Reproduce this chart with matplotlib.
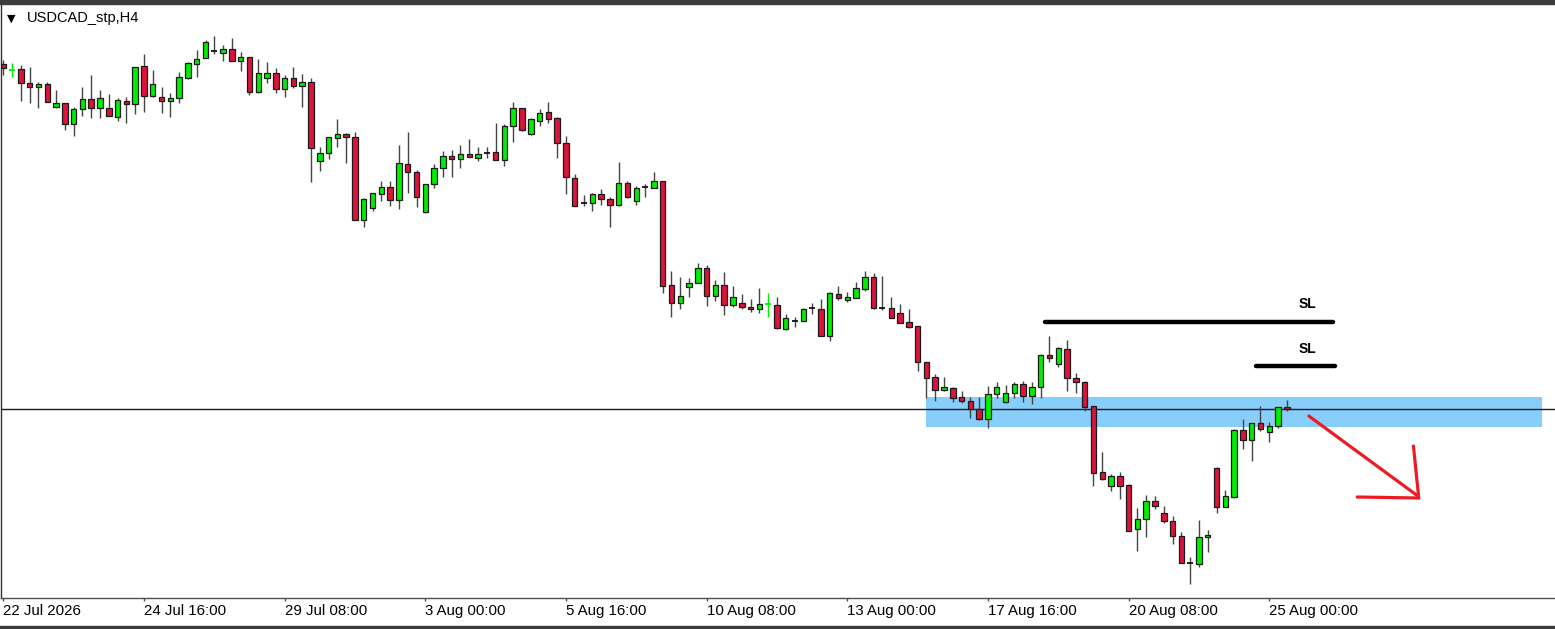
import matplotlib
matplotlib.use("Agg")
import matplotlib.pyplot as plt
from matplotlib.patches import Rectangle
import numpy as np

# H4 candles, USDCAD (bar index 0 = 22 Jul 2026 00:00)
opens = [
    1.3536, 1.3530, 1.3531, 1.3517, 1.3513, 1.3516, 1.3493, 1.3497, 1.3476, 1.3491,
    1.3501, 1.3492, 1.3492, 1.3483, 1.3499, 1.3496, 1.3534, 1.3504, 1.3503, 1.3499,
    1.3502, 1.3522, 1.3536, 1.3542, 1.3549, 1.3547, 1.3551, 1.3539, 1.3543, 1.3508,
    1.3522, 1.3527, 1.3511, 1.3522, 1.3514, 1.3518, 1.3439, 1.3447, 1.3462, 1.3466,
    1.3463, 1.3380, 1.3392, 1.3406, 1.3413, 1.3400, 1.3436, 1.3428, 1.3388, 1.3416,
    1.3432, 1.3444, 1.3441, 1.3446, 1.3442, 1.3447, 1.3448, 1.3440, 1.3474, 1.3492,
    1.3466, 1.3479, 1.3488, 1.3482, 1.3457, 1.3422, 1.3397, 1.3397, 1.3406, 1.3401,
    1.3395, 1.3417, 1.3399, 1.3413, 1.3412, 1.3419, 1.3315, 1.3297, 1.3313, 1.3317,
    1.3332, 1.3304, 1.3315, 1.3295, 1.3297, 1.3293, 1.3291, 1.3296, 1.3295, 1.3271,
    1.3279, 1.3279, 1.3292, 1.3291, 1.3264, 1.3306, 1.3300, 1.3302, 1.3311, 1.3323,
    1.3292, 1.3292, 1.3287, 1.3278, 1.3274, 1.3238, 1.3223, 1.3210, 1.3212, 1.3203,
    1.3199, 1.3191, 1.3181, 1.3206, 1.3198, 1.3207, 1.3216, 1.3204, 1.3213, 1.3245,
    1.3236, 1.3251, 1.3222, 1.3218, 1.3194, 1.3128, 1.3114, 1.3124, 1.3115, 1.3071,
    1.3081, 1.3099, 1.3087, 1.3079, 1.3064, 1.3037, 1.3036, 1.3063, 1.3132, 1.3093,
    1.3103, 1.3170, 1.3160, 1.3177, 1.3168, 1.3174, 1.3193,
]
highs = [
    1.3540, 1.3537, 1.3535, 1.3533, 1.3518, 1.3518, 1.3510, 1.3497, 1.3493, 1.3513,
    1.3525, 1.3510, 1.3506, 1.3502, 1.3503, 1.3533, 1.3546, 1.3530, 1.3513, 1.3507,
    1.3528, 1.3538, 1.3550, 1.3560, 1.3564, 1.3555, 1.3562, 1.3548, 1.3543, 1.3541,
    1.3538, 1.3532, 1.3525, 1.3533, 1.3526, 1.3522, 1.3453, 1.3463, 1.3481, 1.3467,
    1.3468, 1.3402, 1.3407, 1.3419, 1.3419, 1.3455, 1.3468, 1.3430, 1.3416, 1.3436,
    1.3449, 1.3450, 1.3455, 1.3461, 1.3453, 1.3453, 1.3477, 1.3476, 1.3498, 1.3492,
    1.3482, 1.3491, 1.3498, 1.3483, 1.3464, 1.3426, 1.3405, 1.3407, 1.3411, 1.3403,
    1.3438, 1.3419, 1.3414, 1.3416, 1.3428, 1.3419, 1.3329, 1.3323, 1.3322, 1.3337,
    1.3335, 1.3320, 1.3328, 1.3314, 1.3306, 1.3301, 1.3312, 1.3307, 1.3303, 1.3286,
    1.3283, 1.3292, 1.3297, 1.3301, 1.3308, 1.3314, 1.3308, 1.3318, 1.3329, 1.3327,
    1.3324, 1.3303, 1.3296, 1.3291, 1.3274, 1.3238, 1.3226, 1.3223, 1.3213, 1.3209,
    1.3203, 1.3203, 1.3214, 1.3218, 1.3215, 1.3218, 1.3219, 1.3218, 1.3246, 1.3264,
    1.3253, 1.3260, 1.3227, 1.3219, 1.3194, 1.3148, 1.3126, 1.3128, 1.3116, 1.3092,
    1.3105, 1.3104, 1.3094, 1.3084, 1.3068, 1.3043, 1.3080, 1.3070, 1.3133, 1.3110,
    1.3171, 1.3181, 1.3177, 1.3194, 1.3178, 1.3193, 1.3200,
]
lows = [
    1.3525, 1.3523, 1.3499, 1.3497, 1.3492, 1.3498, 1.3492, 1.3470, 1.3464, 1.3484,
    1.3482, 1.3482, 1.3484, 1.3479, 1.3477, 1.3486, 1.3488, 1.3503, 1.3487, 1.3483,
    1.3497, 1.3521, 1.3523, 1.3542, 1.3546, 1.3539, 1.3539, 1.3529, 1.3505, 1.3507,
    1.3517, 1.3507, 1.3503, 1.3512, 1.3493, 1.3418, 1.3429, 1.3441, 1.3453, 1.3437,
    1.3380, 1.3373, 1.3389, 1.3399, 1.3394, 1.3391, 1.3407, 1.3393, 1.3387, 1.3412,
    1.3423, 1.3423, 1.3432, 1.3443, 1.3439, 1.3442, 1.3440, 1.3434, 1.3458, 1.3469,
    1.3465, 1.3474, 1.3477, 1.3442, 1.3406, 1.3394, 1.3394, 1.3389, 1.3395, 1.3373,
    1.3394, 1.3402, 1.3395, 1.3403, 1.3412, 1.3307, 1.3283, 1.3291, 1.3303, 1.3317,
    1.3294, 1.3299, 1.3285, 1.3293, 1.3291, 1.3288, 1.3287, 1.3283, 1.3271, 1.3270,
    1.3273, 1.3279, 1.3286, 1.3264, 1.3259, 1.3300, 1.3298, 1.3302, 1.3309, 1.3291,
    1.3290, 1.3282, 1.3277, 1.3272, 1.3229, 1.3202, 1.3199, 1.3209, 1.3198, 1.3197,
    1.3182, 1.3180, 1.3172, 1.3202, 1.3197, 1.3202, 1.3198, 1.3196, 1.3202, 1.3238,
    1.3233, 1.3209, 1.3207, 1.3189, 1.3114, 1.3120, 1.3109, 1.3101, 1.3069, 1.3049,
    1.3063, 1.3091, 1.3077, 1.3056, 1.3037, 1.3016, 1.3033, 1.3048, 1.3087, 1.3093,
    1.3102, 1.3151, 1.3139, 1.3169, 1.3158, 1.3172, 1.3189,
]
closes = [
    1.3532, 1.3530, 1.3517, 1.3513, 1.3516, 1.3498, 1.3497, 1.3476, 1.3491, 1.3501,
    1.3492, 1.3502, 1.3484, 1.3500, 1.3496, 1.3533, 1.3504, 1.3516, 1.3499, 1.3502,
    1.3523, 1.3537, 1.3541, 1.3558, 1.3549, 1.3551, 1.3539, 1.3543, 1.3508, 1.3527,
    1.3527, 1.3511, 1.3522, 1.3514, 1.3518, 1.3452, 1.3447, 1.3463, 1.3466, 1.3463,
    1.3380, 1.3401, 1.3407, 1.3413, 1.3400, 1.3437, 1.3428, 1.3403, 1.3416, 1.3432,
    1.3444, 1.3441, 1.3446, 1.3443, 1.3446, 1.3447, 1.3440, 1.3474, 1.3492, 1.3470,
    1.3481, 1.3487, 1.3481, 1.3457, 1.3423, 1.3394, 1.3397, 1.3406, 1.3401, 1.3395,
    1.3417, 1.3403, 1.3412, 1.3413, 1.3419, 1.3314, 1.3297, 1.3304, 1.3317, 1.3332,
    1.3304, 1.3315, 1.3295, 1.3303, 1.3293, 1.3291, 1.3296, 1.3296, 1.3272, 1.3282,
    1.3279, 1.3291, 1.3292, 1.3264, 1.3307, 1.3302, 1.3303, 1.3312, 1.3323, 1.3292,
    1.3292, 1.3282, 1.3277, 1.3273, 1.3238, 1.3222, 1.3210, 1.3213, 1.3202, 1.3199,
    1.3191, 1.3181, 1.3206, 1.3213, 1.3207, 1.3216, 1.3204, 1.3213, 1.3245, 1.3242,
    1.3252, 1.3222, 1.3218, 1.3193, 1.3127, 1.3121, 1.3124, 1.3114, 1.3069, 1.3081,
    1.3099, 1.3094, 1.3079, 1.3064, 1.3037, 1.3037, 1.3063, 1.3065, 1.3093, 1.3104,
    1.3170, 1.3160, 1.3177, 1.3171, 1.3174, 1.3193, 1.3191,
]

tick_bars = [0, 16, 32, 48, 64, 80, 96, 112, 128, 144]
tick_labels = ["22 Jul 2026", "24 Jul 16:00", "29 Jul 08:00", "3 Aug 00:00",
               "5 Aug 16:00", "10 Aug 08:00", "13 Aug 00:00", "17 Aug 16:00",
               "20 Aug 08:00", "25 Aug 00:00"]
lime_doji = [1, 87]

# chart objects
level = 1.3191
zone_bars = (105, 175)
zone_prices = (1.3173, 1.3203)
sl_prices = [1.3278, 1.3234]
sl_bars = [(118.5, 151.3), (142.5, 151.5)]
sl_label_bar = 148.3
sl_label_prices = [1.3296, 1.3251]
arrow_segments = [
    [(148.5, 1.3184), (160.9, 1.3104)],
    [(160.4, 1.3154), (161.0, 1.3102)],
    [(154.0, 1.3103), (161.0, 1.3102)],
]

BULL = "#00EE00"
BEAR = "#DC143C"

plt.rcParams['font.family'] = ['Liberation Sans', 'DejaVu Sans']

W, H = 1555, 629
fig = plt.figure(figsize=(W / 100, H / 100), dpi=100)
ax = fig.add_axes([1 / W, 31 / H, 1 - 1 / W, 593 / H])

o = np.array(opens)
h = np.array(highs)
l = np.array(lows)
c = np.array(closes)
x = np.arange(len(o))

# zone and level line
ax.add_patch(Rectangle((zone_bars[0], zone_prices[0]), zone_bars[1] - zone_bars[0],
                       zone_prices[1] - zone_prices[0], color="#87CEFA", lw=0, zorder=1))
ax.axhline(level, color="#1a1a1a", lw=1.0, zorder=2)

# candles
doji = np.isclose(o, c)
wick_col = ["#00EE00" if i in lime_doji else "#444444" for i in x]
ax.vlines(x, l, h, colors=wick_col, lw=1.0, zorder=3)
body = ~doji
fills = np.where(c > o, BULL, BEAR)
ax.bar(x[body], np.abs(c - o)[body], bottom=np.minimum(o, c)[body], width=0.62,
       color=fills[body], edgecolor="#1a1a1a", linewidth=0.9, zorder=4)
for i in x[doji]:
    col = BULL if i in lime_doji else "#111111"
    ax.hlines(o[i], i - 0.34, i + 0.34, colors=col, lw=1.3, zorder=4)

# stop loss lines
for p, (b0, b1) in zip(sl_prices, sl_bars):
    ax.plot([b0, b1], [p, p], color="black", lw=3.2, solid_capstyle="round", zorder=5)
for p in sl_label_prices:
    ax.text(sl_label_bar, p, "SL", ha="center", va="center", fontsize=10,
            fontweight="bold", color="black", zorder=6)

for seg in arrow_segments:
    (x0, y0), (x1, y1) = seg
    ax.plot([x0, x1], [y0, y1], color="#ED1C24", lw=2.3, solid_capstyle="round", zorder=6)

ax.set_xlim(-0.262, 176.5)
ax.set_ylim(1.3002, 1.3595)
ax.set_yticks([])
ax.set_xticks(tick_bars)
ax.set_xticklabels(tick_labels, fontsize=10.8, color="black")
for lbl in ax.get_xticklabels():
    lbl.set_horizontalalignment("left")
ax.tick_params(axis="x", direction="out", length=2.5, width=1, color="#505050", pad=2)
for s in ["top", "right"]:
    ax.spines[s].set_visible(False)
ax.spines["left"].set_color("#303030")
ax.spines["bottom"].set_color("#505050")
ax.spines["left"].set_linewidth(1.0)
ax.spines["bottom"].set_linewidth(1.0)

# window chrome
fig.patches.append(Rectangle((0, 1 - 4 / H), 1, 4 / H, transform=fig.transFigure,
                             color="#3c3c3c", zorder=0))
fig.patches.append(Rectangle((0, 0), 1, 3 / H, transform=fig.transFigure,
                             color="#3c3c3c", zorder=0))
fig.text(11 / W, 1 - 18.5 / H, "\u25bc", ha="center", va="center", fontsize=8,
         family="DejaVu Sans", color="black")
fig.text(27 / W, 1 - 18 / H, "USDCAD_stp,H4", ha="left", va="center", fontsize=10.5,
         color="black")

fig.savefig("out.png", dpi=100)
